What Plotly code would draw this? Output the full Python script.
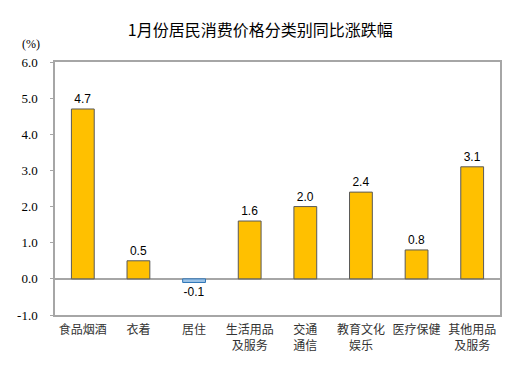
import plotly.graph_objects as go

categories = ["食品烟酒", "衣着", "居住", "生活用品<br>及服务", "交通<br>通信", "教育文化<br>娱乐", "医疗保健", "其他用品<br>及服务"]
values = [4.7, 0.5, -0.1, 1.6, 2.0, 2.4, 0.8, 3.1]
tick_vals = [-1, 0, 1, 2, 3, 4, 5, 6]
tick_text = ["-1.0", "0.0", "1.0", "2.0", "3.0", "4.0", "5.0", "6.0"]

colors = ["#FFC000" if v >= 0 else "#9DC3E6" for v in values]
lines = ["#595959" if v >= 0 else "#2E75B6" for v in values]

fig = go.Figure(go.Bar(
    x=categories, y=values,
    marker=dict(color=colors, line=dict(color=lines, width=1)),
    width=0.41,
    text=[f"{v:.1f}" for v in values],
    textposition="outside",
    textfont=dict(family="Liberation Sans, Arial", size=12, color="#000000"),
    cliponaxis=False,
))

fig.update_layout(
    width=529, height=378,
    margin=dict(l=55, r=29, t=62, b=63, autoexpand=False),
    paper_bgcolor="white", plot_bgcolor="white",
    showlegend=False,
    bargap=0.59,
    title=dict(text="1月份居民消费价格分类别同比涨跌幅", x=0.492, xref="container", xanchor="center",
               y=0.92, yref="container", yanchor="middle",
               font=dict(family="Noto Sans CJK SC", size=16, color="#000000")),
    xaxis=dict(showline=True, linecolor="#A6A6A6", linewidth=1.5, mirror=True,
               tickfont=dict(family="Noto Sans CJK SC", size=12, color="#333333"),
               showgrid=False, ticks="", ticklabelstandoff=3),
    yaxis=dict(range=[-1, 6], tickvals=tick_vals, ticktext=tick_text,
               showline=True, linecolor="#A6A6A6", linewidth=1.5, mirror=True,
               showgrid=False, zeroline=True, zerolinecolor="#A6A6A6", zerolinewidth=1.5,
               ticks="outside", ticklen=3, tickcolor="#A6A6A6", ticklabelstandoff=10,
               tickfont=dict(family="Liberation Serif, Times New Roman", size=13, color="#000000")),
    annotations=[dict(text="(%)", xref="paper", yref="paper", x=-0.029, y=1.036,
                      xanchor="right", yanchor="bottom", showarrow=False,
                      font=dict(family="Liberation Serif, Times New Roman", size=12, color="#000000"))],
)

fig.write_html("out.html", config={"displayModeBar": False},
               post_script="document.body.style.margin='0';")
